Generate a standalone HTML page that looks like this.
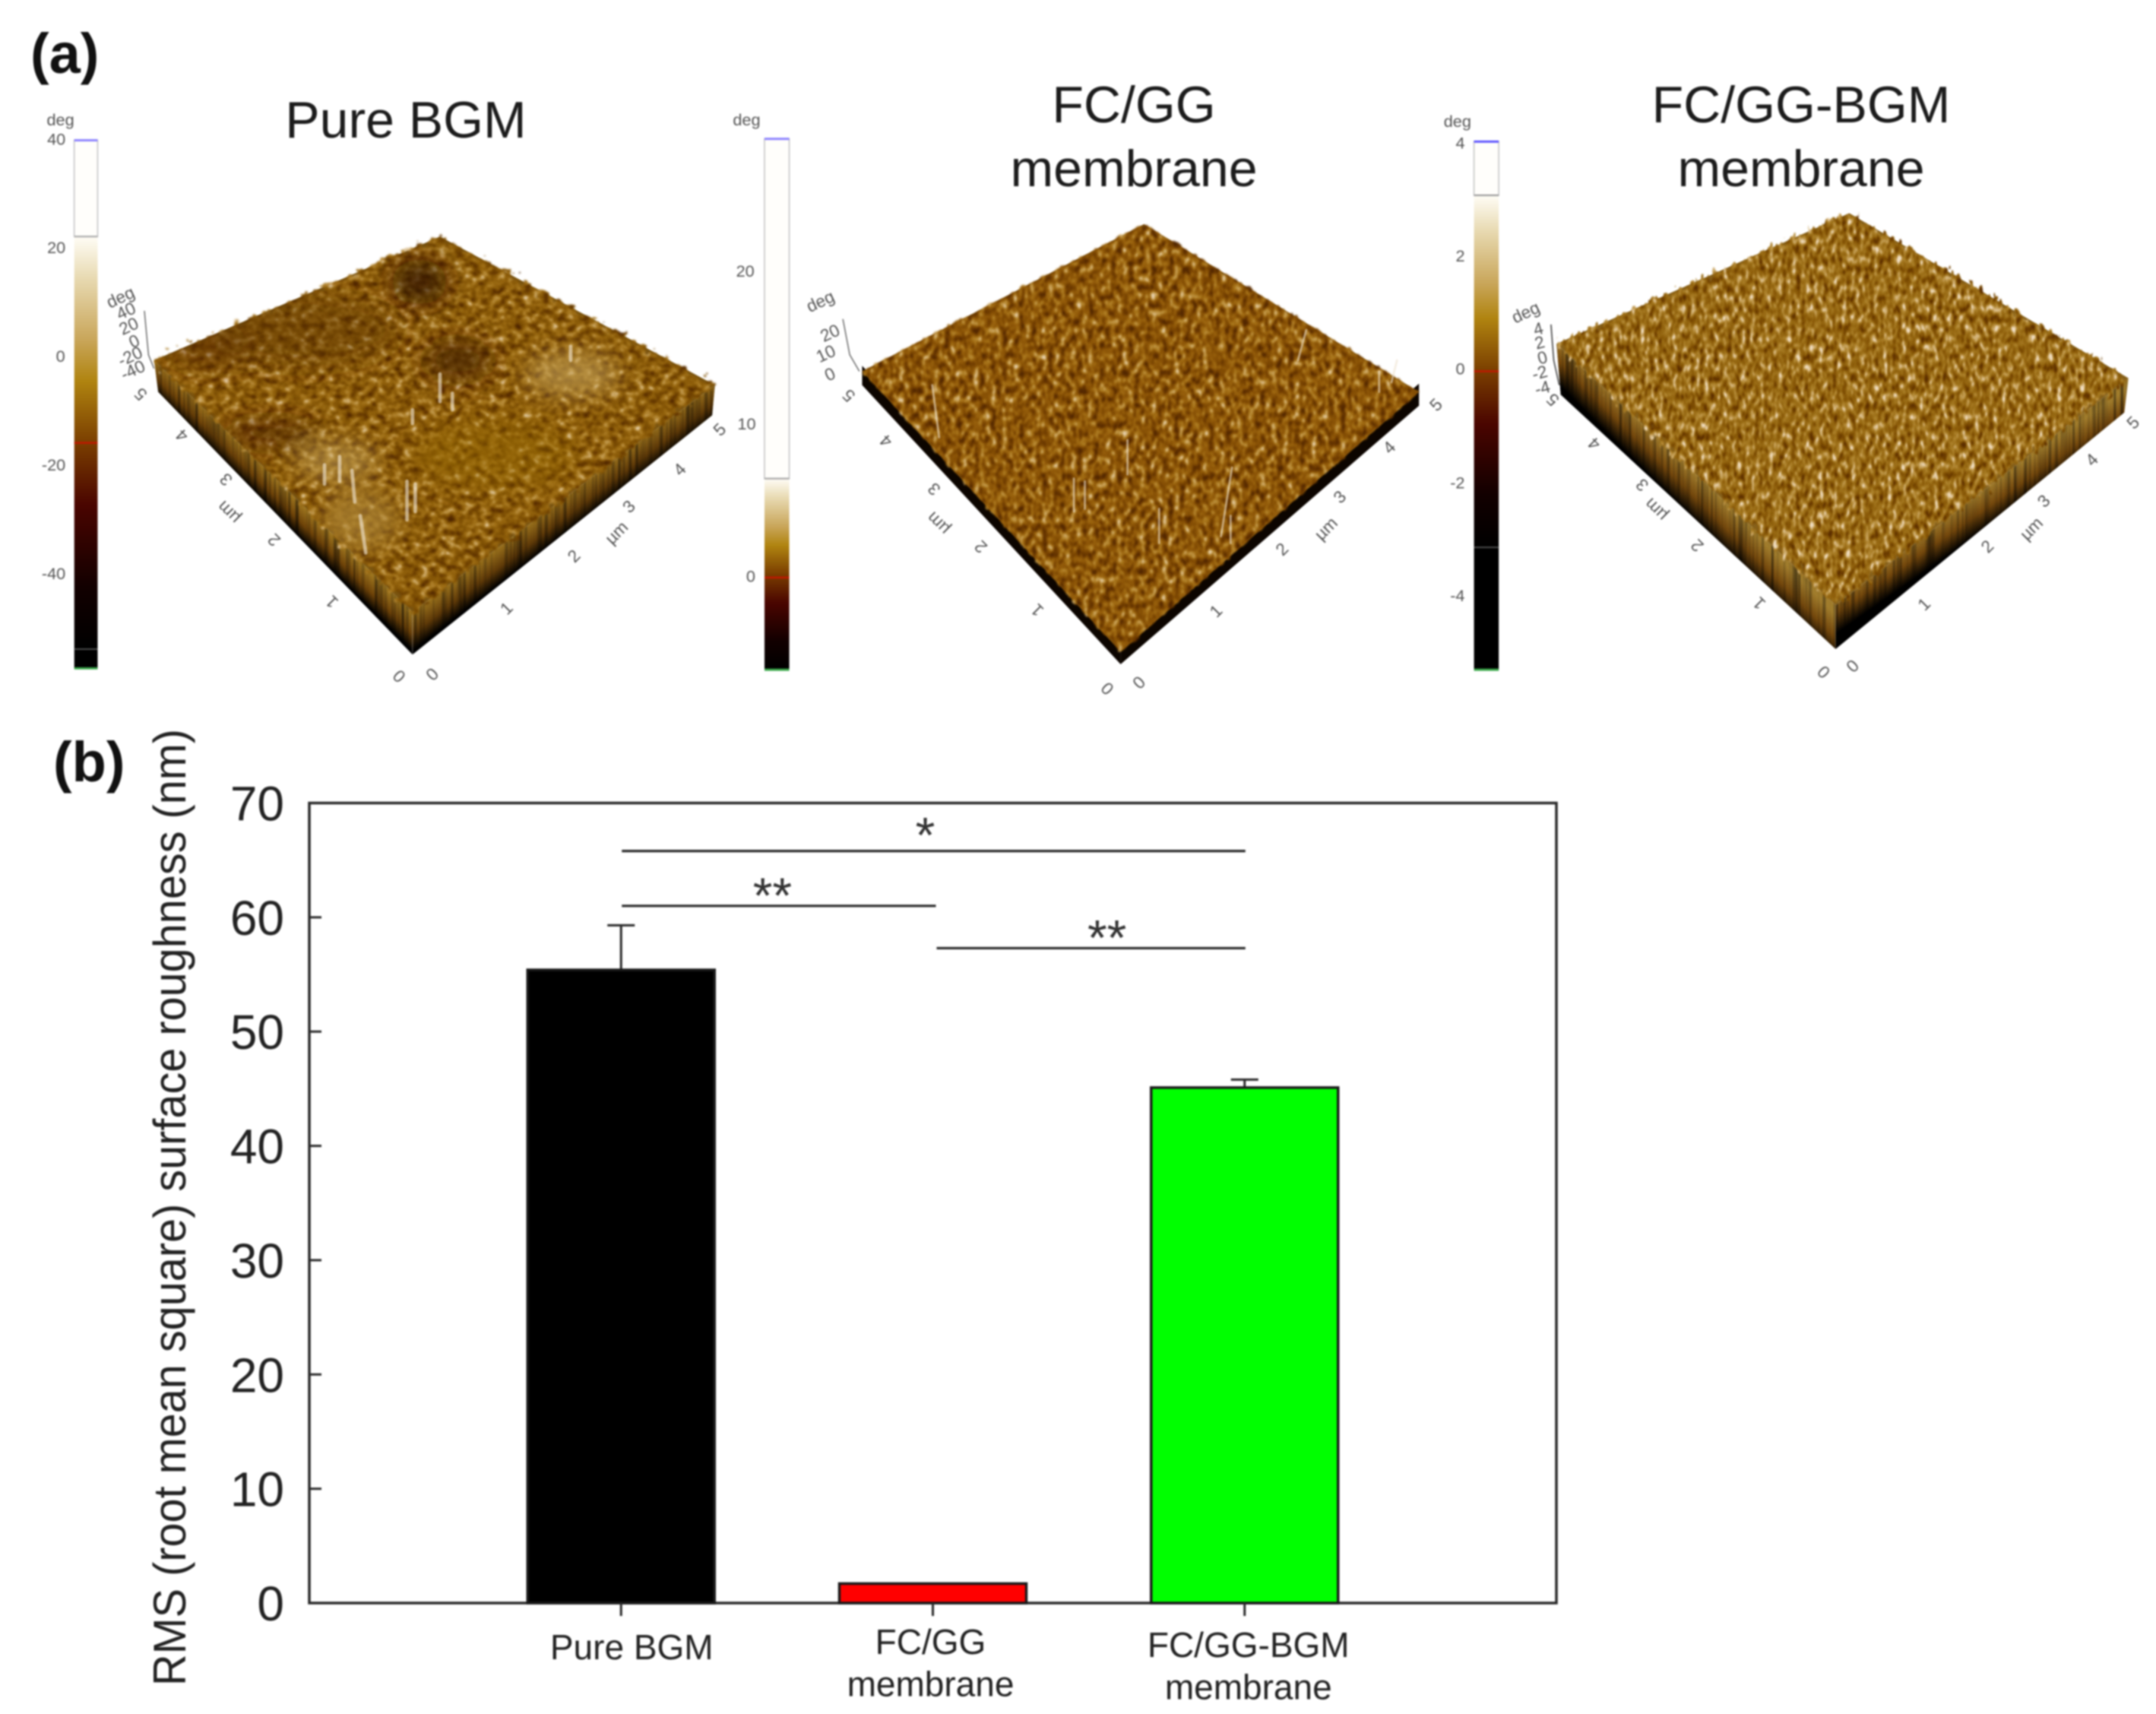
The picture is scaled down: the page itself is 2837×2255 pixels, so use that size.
<!DOCTYPE html>
<html lang="en">
<head>
<meta charset="utf-8">
<title>AFM surfaces and RMS surface roughness</title>
<style>
html,body{margin:0;padding:0;background:#fff;}
#figure{display:block;width:2837px;height:2255px;filter:blur(1.1px);font-family:"Liberation Sans",sans-serif;}
.afm text{font-family:"Liberation Sans",sans-serif;font-size:12.5px;fill:#555;text-anchor:middle;dominant-baseline:middle;}
.afm text.cb{font-size:12px;}
.title{font-size:68px;fill:#1c1c1c;text-anchor:middle;}
.panel-label{font-size:74px;font-weight:bold;fill:#111;}
</style>
</head>
<body>
<svg id="figure" xmlns="http://www.w3.org/2000/svg" width="2837" height="2255" viewBox="0 0 2837 2255">
<defs>
  <linearGradient id="cmap" x1="0" y1="0" x2="0" y2="1">
    <stop offset="0" stop-color="#fffdf6"/><stop offset=".1" stop-color="#e8dab2"/>
    <stop offset=".25" stop-color="#c9a65a"/><stop offset=".35" stop-color="#b08410"/>
    <stop offset=".5" stop-color="#7a3e00"/><stop offset=".65" stop-color="#4a0500"/>
    <stop offset=".85" stop-color="#120000"/><stop offset="1" stop-color="#000"/>
  </linearGradient>
  <linearGradient id="wall1l" gradientUnits="userSpaceOnUse" x1="206" y1="353" x2="193" y2="366"><stop offset="0" stop-color="#a07820"/><stop offset=".55" stop-color="#6d4208"/><stop offset="1" stop-color="#000"/></linearGradient>
  <linearGradient id="wall1r" gradientUnits="userSpaceOnUse" x1="410" y1="362" x2="423" y2="379"><stop offset="0" stop-color="#98701c"/><stop offset=".55" stop-color="#5f3a08"/><stop offset="1" stop-color="#000"/></linearGradient>
  <linearGradient id="wall3l" gradientUnits="userSpaceOnUse" x1="1233" y1="345" x2="1216" y2="362"><stop offset="0" stop-color="#a07c2c"/><stop offset=".5" stop-color="#73470c"/><stop offset="1" stop-color="#000"/></linearGradient>
  <linearGradient id="wall3r" gradientUnits="userSpaceOnUse" x1="1441" y1="357" x2="1455" y2="377"><stop offset="0" stop-color="#a07c2c"/><stop offset=".5" stop-color="#73470c"/><stop offset="1" stop-color="#000"/></linearGradient>

  <filter id="surf1" x="-5%" y="-5%" width="110%" height="110%" color-interpolation-filters="sRGB">
    <feTurbulence type="fractalNoise" baseFrequency="0.16 0.2" numOctaves="3" seed="7" result="n"/>
    <feDisplacementMap in="SourceAlpha" in2="n" scale="13" xChannelSelector="R" yChannelSelector="G" result="shape"/>
    <feColorMatrix in="n" type="matrix" values="1.5 0 0 0 -0.26  1.5 0 0 0 -0.26  1.5 0 0 0 -0.26  0 0 0 0 1" result="gray"/>
    <feComponentTransfer in="gray" result="color">
      <feFuncR type="table" tableValues="0.30 0.40 0.48 0.56 0.64 0.76 0.92"/>
      <feFuncG type="table" tableValues="0.14 0.22 0.30 0.37 0.45 0.60 0.84"/>
      <feFuncB type="table" tableValues="0 0 0.01 0.04 0.10 0.30 0.72"/>
    </feComponentTransfer>
    <feComposite in="color" in2="shape" operator="in"/>
    <feGaussianBlur stdDeviation="0.6"/>
  </filter>
  <filter id="surf2" x="-5%" y="-5%" width="110%" height="110%" color-interpolation-filters="sRGB">
    <feTurbulence type="fractalNoise" baseFrequency="0.24 0.16" numOctaves="2" seed="4" result="n"/>
    <feDisplacementMap in="SourceAlpha" in2="n" scale="5" xChannelSelector="R" yChannelSelector="G" result="shape"/>
    <feColorMatrix in="n" type="matrix" values="1.7 0 0 0 -0.4  1.7 0 0 0 -0.4  1.7 0 0 0 -0.4  0 0 0 0 1" result="gray"/>
    <feComponentTransfer in="gray" result="color">
      <feFuncR type="table" tableValues="0.32 0.42 0.50 0.58 0.66 0.78 0.92"/>
      <feFuncG type="table" tableValues="0.15 0.22 0.29 0.36 0.46 0.62 0.84"/>
      <feFuncB type="table" tableValues="0 0 0.01 0.04 0.10 0.32 0.72"/>
    </feComponentTransfer>
    <feComposite in="color" in2="shape" operator="in"/>
    <feGaussianBlur stdDeviation="0.6"/>
  </filter>
  <filter id="surf3" x="-5%" y="-5%" width="110%" height="110%" color-interpolation-filters="sRGB">
    <feTurbulence type="fractalNoise" baseFrequency="0.3 0.14" numOctaves="2" seed="11" result="n"/>
    <feDisplacementMap in="SourceAlpha" in2="n" scale="14" xChannelSelector="R" yChannelSelector="G" result="shape"/>
    <feColorMatrix in="n" type="matrix" values="1.7 0 0 0 -0.35  1.7 0 0 0 -0.35  1.7 0 0 0 -0.35  0 0 0 0 1" result="gray"/>
    <feComponentTransfer in="gray" result="color">
      <feFuncR type="table" tableValues="0.36 0.46 0.54 0.60 0.68 0.80 0.95"/>
      <feFuncG type="table" tableValues="0.18 0.27 0.35 0.42 0.51 0.66 0.88"/>
      <feFuncB type="table" tableValues="0 0 0.03 0.08 0.17 0.40 0.78"/>
    </feComponentTransfer>
    <feComposite in="color" in2="shape" operator="in"/>
    <feGaussianBlur stdDeviation="0.5"/>
  </filter>
  <filter id="streak" x="-5%" y="-5%" width="110%" height="110%" color-interpolation-filters="sRGB">
    <feTurbulence type="fractalNoise" baseFrequency="0.4 0.006" numOctaves="2" seed="3" result="n"/>
    <feColorMatrix in="n" type="matrix" values="1.4 0 0 0 0.2  1.4 0 0 0 0.2  1.4 0 0 0 0.2  0 0 0 0 1" result="gray"/>
    <feBlend in="SourceGraphic" in2="gray" mode="multiply" result="b"/>
    <feComposite in="b" in2="SourceAlpha" operator="in"/>
  </filter>
  <filter id="soft"><feGaussianBlur stdDeviation="8"/></filter>
  <clipPath id="face1"><polygon points="112,262 320,172 520,280 300,445"/></clipPath>
</defs>

<rect width="2837" height="2255" fill="#fff"/>

<text class="panel-label" x="40" y="96">(a)</text>
<text class="panel-label" x="70" y="1028">(b)</text>

<text class="title" x="534" y="181">Pure BGM</text>
<text class="title" x="1492" y="161">FC/GG</text>
<text class="title" x="1492" y="245">membrane</text>
<text class="title" x="2370" y="161">FC/GG-BGM</text>
<text class="title" x="2370" y="245">membrane</text>

<g class="afm" transform="scale(1.8093)">

  <!-- Panel 1: Pure BGM -->
  <g>
    <g>
      <rect x="54" y="102" width="17" height="70" fill="#fffefb" stroke="#ccc" stroke-width="1"/>
      <rect x="54" y="172" width="17" height="300" fill="url(#cmap)"/>
      <rect x="54" y="472" width="17" height="14" fill="#000"/>
      <line x1="54" x2="71" y1="102" y2="102" stroke="#8a80ff" stroke-width="1.6"/>
      <line x1="54" x2="71" y1="172" y2="172" stroke="#aaa" stroke-width="1.2"/>
      <line x1="54" x2="71" y1="322" y2="322" stroke="#c01800" stroke-width="1.4"/>
      <line x1="54" x2="71" y1="472" y2="472" stroke="#555" stroke-width="1"/>
      <line x1="54" x2="71" y1="486" y2="486" stroke="#3aa84a" stroke-width="1.6"/>
      <text class="cb" x="44" y="88">deg</text>
      <text class="cb" x="41" y="102">40</text>
      <text class="cb" x="41" y="181">20</text>
      <text class="cb" x="44" y="260">0</text>
      <text class="cb" x="39" y="339">-20</text>
      <text class="cb" x="39" y="418">-40</text>
    </g>
    <polygon points="112,262 300,445 300,476 115,285" fill="url(#wall1l)" filter="url(#streak)"/>
    <polygon points="300,445 520,280 518,302 300,476" fill="url(#wall1r)" filter="url(#streak)"/>
    <polygon points="112,262 320,172 520,280 300,445" fill="#7a5410"/>
    <polygon points="112,262 320,172 520,280 300,445" fill="#000" filter="url(#surf1)"/>
    <g clip-path="url(#face1)">
      <g filter="url(#soft)">
        <ellipse cx="220" cy="240" rx="70" ry="26" fill="#5a3000" opacity=".4"/>
        <ellipse cx="305" cy="205" rx="20" ry="16" fill="#2e1400" opacity=".75"/>
        <ellipse cx="333" cy="262" rx="24" ry="14" fill="#401c00" opacity=".7"/>
        <ellipse cx="197" cy="315" rx="34" ry="10" fill="#4a2000" opacity=".6"/>
        <ellipse cx="152" cy="254" rx="30" ry="14" fill="#5a2e00" opacity=".5"/>
        <ellipse cx="416" cy="272" rx="34" ry="16" fill="#c4a45c" opacity=".6"/>
        <ellipse cx="245" cy="335" rx="30" ry="14" fill="#c4a45c" opacity=".55"/>
        <ellipse cx="262" cy="378" rx="28" ry="22" fill="#b08a3c" opacity=".6"/>
        <ellipse cx="360" cy="330" rx="60" ry="26" fill="#94680e" opacity=".4"/>
      </g>
    </g>
    <g stroke="#f4ead8" stroke-linecap="round" fill="none">
      <path d="M262 375L266 402M296 350V378M302 352V372M247 332V350M256 342L258 365M236 338V352M320 272V292M329 286V298M300 298V308M415 252V262" stroke-width="2.6" opacity=".6"/>
    </g>
    <text transform="translate(242,437) rotate(-135)">1</text>
    <text transform="translate(200,392) rotate(-135)">2</text>
    <text transform="translate(167,372) rotate(-135)">µm</text>
    <text transform="translate(165,348) rotate(-135)">3</text>
    <text transform="translate(133,316) rotate(-135)">4</text>
    <text transform="translate(103,286) rotate(-135)">5</text>
    <text transform="translate(291,491) rotate(-135)">0</text>
    <text transform="translate(315,491) rotate(-45)">0</text>
    <text transform="translate(369,443) rotate(-45)">1</text>
    <text transform="translate(418,405) rotate(-45)">2</text>
    <text transform="translate(449,388) rotate(-45)">µm</text>
    <text transform="translate(458,369) rotate(-45)">3</text>
    <text transform="translate(495,342) rotate(-45)">4</text>
    <text transform="translate(524,313) rotate(-45)">5</text>
    <path d="M105 226L108 258L112 268" stroke="#666" stroke-width=".8" fill="none"/>
    <text transform="translate(88,217) rotate(-25)">deg</text>
    <text transform="translate(92,227) rotate(-25)">40</text>
    <text transform="translate(94,238) rotate(-25)">20</text>
    <text transform="translate(98,249) rotate(-25)">0</text>
    <text transform="translate(95,260) rotate(-25)">-20</text>
    <text transform="translate(97,270) rotate(-25)">-40</text>
  </g>

  <!-- Panel 2: FC/GG -->
  <g>
    <g>
      <rect x="556" y="101" width="18" height="247" fill="#fffefb" stroke="#ccc" stroke-width="1"/>
      <rect x="556" y="348" width="18" height="139" fill="url(#cmap)"/>
      <line x1="556" x2="574" y1="101" y2="101" stroke="#8a80ff" stroke-width="1.6"/>
      <line x1="556" x2="574" y1="348" y2="348" stroke="#aaa" stroke-width="1.2"/>
      <line x1="556" x2="574" y1="420" y2="420" stroke="#c01800" stroke-width="1.4"/>
      <line x1="556" x2="574" y1="487" y2="487" stroke="#3aa84a" stroke-width="1.6"/>
      <text class="cb" x="543" y="88">deg</text>
      <text class="cb" x="542" y="198">20</text>
      <text class="cb" x="543" y="309">10</text>
      <text class="cb" x="546" y="420">0</text>
    </g>
    <polygon points="627,266 815,466 815,483 627,280" fill="#0c0500"/>
    <polygon points="815,466 1032,279 1032,295 815,483" fill="#0c0500"/>
    <polygon points="627,270 832,163 1032,285 815,474" fill="#7a4e0c"/>
    <polygon points="627,270 832,163 1032,285 815,474" fill="#000" filter="url(#surf2)"/>
    <g stroke="#efe2cf" stroke-linecap="round" fill="none">
      <path d="M678 280L683 318M896 340L888 390M843 370V395M820 320V345M950 240L944 262M1003 270V285M895 375V395M1016 262L1012 278M781 348V372M789 350V370" stroke-width="1.5" opacity=".6"/>
    </g>
    <text transform="translate(755,443) rotate(-135)">1</text>
    <text transform="translate(714,397) rotate(-135)">2</text>
    <text transform="translate(683,380) rotate(-135)">µm</text>
    <text transform="translate(680,355) rotate(-135)">3</text>
    <text transform="translate(645,320) rotate(-135)">4</text>
    <text transform="translate(618,287) rotate(-135)">5</text>
    <text transform="translate(806,500) rotate(-135)">0</text>
    <text transform="translate(829,497) rotate(-45)">0</text>
    <text transform="translate(885,445) rotate(-45)">1</text>
    <text transform="translate(933,400) rotate(-45)">2</text>
    <text transform="translate(965,385) rotate(-45)">µm</text>
    <text transform="translate(975,362) rotate(-45)">3</text>
    <text transform="translate(1011,326) rotate(-45)">4</text>
    <text transform="translate(1045,295) rotate(-45)">5</text>
    <path d="M613 232L618 258L625 270" stroke="#666" stroke-width=".8" fill="none"/>
    <text transform="translate(597,220) rotate(-25)">deg</text>
    <text transform="translate(604,243) rotate(-25)">20</text>
    <text transform="translate(601,258) rotate(-25)">10</text>
    <text transform="translate(604,273) rotate(-25)">0</text>
  </g>

  <!-- Panel 3: FC/GG-BGM -->
  <g>
    <g>
      <rect x="1072" y="103" width="18" height="39" fill="#fffefb" stroke="#ccc" stroke-width="1"/>
      <rect x="1072" y="142" width="18" height="256" fill="url(#cmap)"/>
      <rect x="1072" y="398" width="18" height="89" fill="#000"/>
      <line x1="1072" x2="1090" y1="103" y2="103" stroke="#5a50ff" stroke-width="1.6"/>
      <line x1="1072" x2="1090" y1="142" y2="142" stroke="#999" stroke-width="1.2"/>
      <line x1="1072" x2="1090" y1="270" y2="270" stroke="#c01800" stroke-width="1.4"/>
      <line x1="1072" x2="1090" y1="398" y2="398" stroke="#555" stroke-width="1"/>
      <line x1="1072" x2="1090" y1="487" y2="487" stroke="#3aa84a" stroke-width="1.6"/>
      <text class="cb" x="1060" y="89">deg</text>
      <text class="cb" x="1062" y="105">4</text>
      <text class="cb" x="1062" y="187">2</text>
      <text class="cb" x="1062" y="269">0</text>
      <text class="cb" x="1060" y="352">-2</text>
      <text class="cb" x="1060" y="434">-4</text>
    </g>
    <polygon points="1132,250 1335,440 1335,472 1135,287" fill="url(#wall3l)" filter="url(#streak)"/>
    <polygon points="1335,440 1548,275 1545,300 1335,472" fill="url(#wall3r)" filter="url(#streak)"/>
    <polygon points="1132,250 1345,155 1548,275 1335,440" fill="#86601a"/>
    <polygon points="1132,250 1345,155 1548,275 1335,440" fill="#000" filter="url(#surf3)"/>
    <text transform="translate(1280,438) rotate(-135)">1</text>
    <text transform="translate(1235,396) rotate(-135)">2</text>
    <text transform="translate(1205,370) rotate(-135)">µm</text>
    <text transform="translate(1195,352) rotate(-135)">3</text>
    <text transform="translate(1160,322) rotate(-135)">4</text>
    <text transform="translate(1130,290) rotate(-135)">5</text>
    <text transform="translate(1327,488) rotate(-135)">0</text>
    <text transform="translate(1348,485) rotate(-45)">0</text>
    <text transform="translate(1400,440) rotate(-45)">1</text>
    <text transform="translate(1446,398) rotate(-45)">2</text>
    <text transform="translate(1478,385) rotate(-45)">µm</text>
    <text transform="translate(1487,365) rotate(-45)">3</text>
    <text transform="translate(1522,335) rotate(-45)">4</text>
    <text transform="translate(1552,308) rotate(-45)">5</text>
    <path d="M1128 236L1130 262L1134 280" stroke="#444" stroke-width=".9" fill="none"/>
    <text transform="translate(1110,228) rotate(-25)">deg</text>
    <text transform="translate(1119,240) rotate(-15)">4</text>
    <text transform="translate(1120,250) rotate(-15)">2</text>
    <text transform="translate(1122,261) rotate(-15)">0</text>
    <text transform="translate(1120,272) rotate(-15)">-2</text>
    <text transform="translate(1122,283) rotate(-15)">-4</text>
  </g>
</g>

<g id="chart"></g>
</svg>

<script>
const categoryLines = [['Pure BGM'], ['FC/GG', 'membrane'], ['FC/GG-BGM', 'membrane']];
const roughnessValues = [55.4, 1.7, 45.1];
const errorValues = [3.9, 0, 0.7];
const yTickValues = [0, 10, 20, 30, 40, 50, 60, 70];
const barFills = ['#000000', '#ff0000', '#00ff00'];
const sigFrom = [0, 0, 1];
const sigTo = [2, 1, 2];
const sigHeights = [65.8, 61.0, 57.3];
const sigMarks = ['*', '**', '**'];

const NS = 'http://www.w3.org/2000/svg';
const chart = document.getElementById('chart');
const plot = { left: 407, right: 2048, top: 1056.5, bottom: 2109 };
const yMax = 70;
function yScale(v) { return plot.bottom - (v / yMax) * (plot.bottom - plot.top); }
function xScale(i) { return plot.left + (i + 1) / (categoryLines.length + 1) * (plot.right - plot.left); }
function make(tag, attrs) {
  const el = document.createElementNS(NS, tag);
  for (const k in attrs) el.setAttribute(k, attrs[k]);
  chart.appendChild(el);
  return el;
}
const ink = '#2a2a2a';
const barHalf = 123;

const frame = make('rect', { x: plot.left, y: plot.top, width: plot.right - plot.left, height: plot.bottom - plot.top, fill: 'none', stroke: ink, 'stroke-width': 3.5 });



yTickValues.forEach(function (v) {
  if (v > 0 && v < yMax) {
    const tick = make('line', { x1: plot.left, x2: plot.left + 16, y1: yScale(v), y2: yScale(v), stroke: ink, 'stroke-width': 3 });
    
    
  }
  const label = make('text', { x: 374, y: yScale(v) + 23, 'text-anchor': 'end', 'font-size': 64, fill: '#222' });
  label.textContent = String(v);
  
  
});

roughnessValues.forEach(function (v, i) {
  const cx = xScale(i);
  if (errorValues[i] > 0) {
    const stem = make('line', { x1: cx, x2: cx, y1: yScale(v), y2: yScale(v + errorValues[i]), stroke: ink, 'stroke-width': 3 });
    
    
    const cap = make('line', { x1: cx - 18, x2: cx + 18, y1: yScale(v + errorValues[i]), y2: yScale(v + errorValues[i]), stroke: ink, 'stroke-width': 3 });
    
    
  }
  const bar = make('rect', { x: cx - barHalf, y: yScale(v), width: barHalf * 2, height: plot.bottom - yScale(v), fill: barFills[i], stroke: '#1a1a1a', 'stroke-width': 3.5 });
  
  
  const tick = make('line', { x1: cx, x2: cx, y1: plot.bottom, y2: plot.bottom + 17, stroke: ink, 'stroke-width': 3 });
  
  
});

const labelNudge = [14, -3, 5];
const labelFirstBaseline = [2183, 2176, 2180];
categoryLines.forEach(function (lines, i) {
  lines.forEach(function (line, j) {
    const t = make('text', { x: xScale(i) + labelNudge[i], y: labelFirstBaseline[i] + j * 55.5, 'text-anchor': 'middle', 'font-size': 46, fill: '#222' });
    t.textContent = line;
    
    
  });
});

const sigMarkDrop = [2, 9, 9];
const sigMarkShift = [-10, -6, 24];
sigHeights.forEach(function (h, i) {
  const a = xScale(sigFrom[i]);
  const b = xScale(sigTo[i]);
  const line = make('line', { x1: a + (i === 2 ? 5 : 1), x2: b + (i === 1 ? 4 : 1), y1: yScale(h), y2: yScale(h), stroke: ink, 'stroke-width': 3.2 });
  
  
  const mark = make('text', { x: (a + b) / 2 + sigMarkShift[i], y: yScale(h) + sigMarkDrop[i], 'text-anchor': 'middle', 'font-size': 66, fill: '#333' });
  mark.textContent = sigMarks[i];
  
  
});

const yTitle = make('text', { transform: 'translate(244,2218) rotate(-90)', 'font-size': 60, 'text-anchor': 'start', fill: '#222', textLength: 1259, lengthAdjust: 'spacingAndGlyphs' });
yTitle.textContent = 'RMS (root mean square) surface roughness (nm)';


</script>
</body>
</html>
